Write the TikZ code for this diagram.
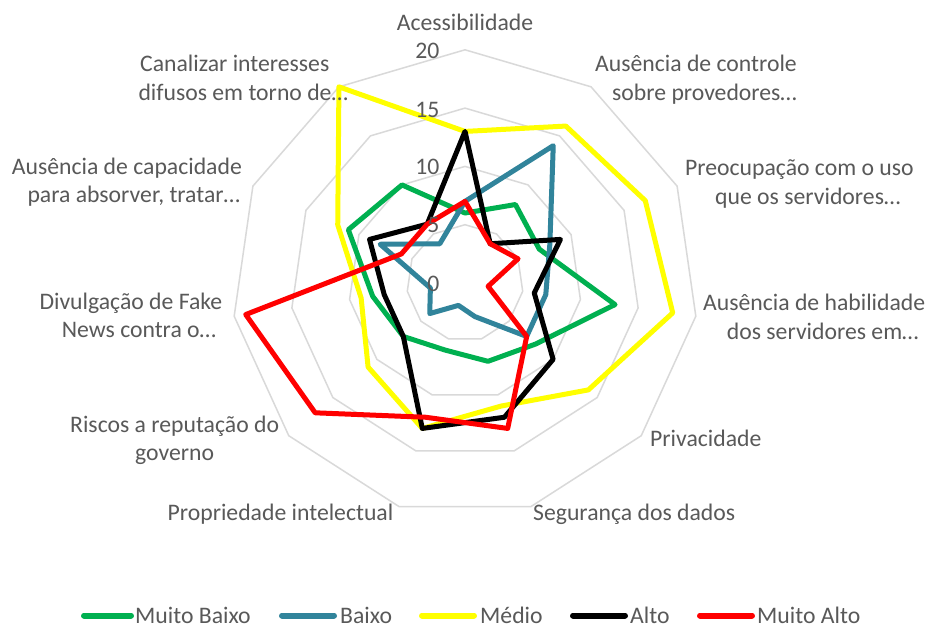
\documentclass[tikz,border=0pt]{standalone}
\usepackage{fontspec}
\setmainfont{Carlito}
\definecolor{cgreen}{HTML}{00B050}
\definecolor{cblue}{HTML}{31849B}
\definecolor{cyellow}{HTML}{FFFF00}
\definecolor{cred}{HTML}{FF0000}
\definecolor{cgrid}{HTML}{D9D9D9}
\definecolor{ctext}{HTML}{595959}
\newcommand\radarline[3]{\draw[ser,draw=#1] (90:#2) \foreach \v [count=\k] in {#3} { -- ({90-\k*360/11}:\v) } -- cycle;}
\begin{document}
\begin{tikzpicture}[x=1pt,y=-1pt,
  lbl/.style={font=\fontsize{23.7}{28}\selectfont, text=ctext, inner sep=0pt, anchor=base west},
  tick/.style={font=\fontsize{23.7}{28}\selectfont, text=ctext, inner sep=0pt, anchor=base east},
  ser/.style={line width=5pt, line join=round},
  gridring/.style={draw=cgrid, line width=1.5pt},
  legline/.style={line width=6pt, line cap=round}]
\useasboundingbox (0,0) rectangle (930,626);
\fill[white] (0,0) rectangle (930,626);
\begin{scope}[shift={(465,283)}, x=11.66pt, y=11.66pt]
  \foreach \r in {5,10,15,20}
    \draw[gridring] (90:\r) \foreach \k in {1,...,10} { -- ({90-\k*360/11}:\r) } -- cycle;
  \radarline{cgreen}{6}{8,7,13,8,7,6,7,8,11,10}
  \radarline{cblue}{7}{14,8,7,7,3,2,4,3,8,4}
  \radarline{cyellow}{13}{16,17,18,14,11,13,11,9,12,20}
  \radarline{black}{13}{4,9,6,10,12,13,7,7,9,6}
  \radarline{cred}{7}{4,5,2,7,13,12,17,19,6,6}
\end{scope}
% tick labels
\node[tick] (t20) at (439.5,59) {20};
\node[tick] (t15) at (439.5,117.5) {15};
\node[tick] (t10) at (439.5,174) {10};
\node[tick] (t5) at (439.5,232.5) {5};
\node[tick] (t0) at (439.5,291) {0};
% axis labels
\node[lbl, anchor=base] (a0) at (465,31) {Acessibilidade};
\node[lbl] (a1a) at (595,72) {Ausência de controle};
\node[lbl] (a1b) at (612,100.5) {sobre provedores…};
\node[lbl] (a2a) at (685,175.5) {Preocupação com o uso};
\node[lbl] (a2b) at (715,204) {que os servidores…};
\node[lbl] (a3a) at (703,310.5) {Ausência de habilidade};
\node[lbl] (a3b) at (726.7,339) {dos servidores em…};
\node[lbl] (a4) at (650,446) {Privacidade};
\node[lbl] (a5) at (533,520) {Segurança dos dados};
\node[lbl] (a6) at (167.5,520) {Propriedade intelectual};
\node[lbl] (a7a) at (70,432) {Riscos a reputação do};
\node[lbl] (a7b) at (135,460.5) {governo};
\node[lbl] (a8a) at (39.3,309) {Divulgação de Fake};
\node[lbl] (a8b) at (61.7,337.5) {News contra o…};
\node[lbl] (a9a) at (11.7,174) {Ausência de capacidade};
\node[lbl] (a9b) at (27.3,202.5) {para absorver, tratar…};
\node[lbl] (a10a) at (140,72) {Canalizar interesses};
\node[lbl] (a10b) at (138.3,100) {difusos em torno de…};
% legend
\draw[legline, cgreen] (84,615.5) -- (131,615.5);
\node[lbl] (l1) at (135,623) {Muito Baixo};
\draw[legline, cblue] (282,615.5) -- (334,615.5);
\node[lbl] (l2) at (340,623) {Baixo};
\draw[legline, cyellow] (422,615.5) -- (474,615.5);
\node[lbl] (l3) at (480,623) {Médio};
\draw[legline, black] (573,615.5) -- (625,615.5);
\node[lbl] (l4) at (630,623) {Alto};
\draw[legline, cred] (700,615.5) -- (752,615.5);
\node[lbl] (l5) at (757,623) {Muito Alto};
\end{tikzpicture}
\end{document}
